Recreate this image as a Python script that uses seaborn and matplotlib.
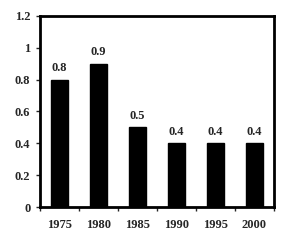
import matplotlib
matplotlib.use("Agg")
import matplotlib.pyplot as plt
import seaborn as sns
import pandas as pd
import numpy as np
from matplotlib.ticker import FixedLocator

years = ["1975", "1980", "1985", "1990", "1995", "2000"]
values = [0.8, 0.9, 0.5, 0.4, 0.4, 0.4]
yticks = [0, 0.2, 0.4, 0.6, 0.8, 1.0, 1.2]
ylabels = ["0", "0.2", "0.4", "0.6", "0.8", "1", "1.2"]

sns.set_style("white")
plt.rcParams['font.family'] = ['Liberation Serif', 'DejaVu Serif']
plt.rcParams['font.weight'] = 'bold'

FS = 9
df = pd.DataFrame({"year": years, "value": values})
fig = plt.figure(figsize=(2.88, 2.46), dpi=100)
ax = fig.add_axes([40/288, 1 - 207/246, 234/288, 191/246])
sns.barplot(data=df, x="year", y="value", color="black", width=0.44,
            saturation=1, ax=ax, edgecolor="black")
ax.set_xlim(-0.5, len(years) - 0.5)
ax.set_ylim(0, 1.2)
ax.set_yticks(yticks)
ax.set_yticklabels(ylabels, fontsize=FS, fontweight='bold')
ax.set_xticks(range(len(years)))
ax.set_xticklabels(years, fontsize=FS, fontweight='bold')
ax.xaxis.set_minor_locator(FixedLocator(np.arange(-0.5, len(years), 1.0)))
ax.tick_params(axis='x', which='major', length=0, pad=9)
ax.tick_params(axis='x', which='minor', length=3, width=1, direction='out', bottom=True)
ax.tick_params(axis='y', which='major', length=3, width=1, direction='out', left=True, pad=4)
ax.set_xlabel("")
ax.set_ylabel("")
for s in ax.spines.values():
    s.set_visible(True)
    s.set_linewidth(2)
    s.set_color("black")
for i, v in enumerate(values):
    ax.text(i, v + 0.035, f"{v:g}", ha="center", va="bottom", fontsize=FS, fontweight='bold')
fig.savefig("out.png", dpi=100)
